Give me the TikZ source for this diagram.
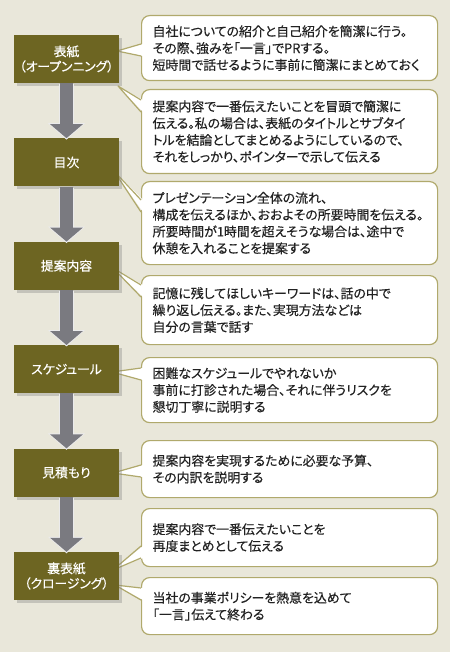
\documentclass[tikz,border=0pt]{standalone}
\usepackage{fontspec}
\setmainfont{Noto Sans CJK JP}[RawFeature={+palt}, UprightFeatures={FakeBold=0.35}]
\usetikzlibrary{positioning, calc, arrows.meta, shadows}

\definecolor{pagebg}{HTML}{E9E7DA}
\definecolor{olive}{HTML}{6D6522}
\definecolor{callline}{HTML}{B0A96C}
\definecolor{flowgray}{HTML}{7A7A80}
\definecolor{ink}{HTML}{222222}

\tikzset{
  stage/.style={rectangle, fill=olive, text=white, minimum width=105pt, minimum height=48pt,
    inner sep=0pt, align=center, font=\fontsize{12.8}{15}\selectfont,
    drop shadow={shadow xshift=3pt, shadow yshift=-3pt, opacity=0.35}},
  callout/.style={rectangle, rounded corners=8pt, draw=callline, line width=1.2pt, fill=white,
    text=ink, anchor=north west, text width=274pt, inner xsep=11pt, inner ysep=0pt, align=left,
    font=\fontsize{12.9}{16.8}\selectfont},
  tailline/.style={draw=callline, line width=1.2pt, line join=round},
  flowedge/.style={draw=white!85!flowgray, line width=15pt, -{Triangle[width=36pt,length=16.5pt]}},
  flow/.style={draw=flowgray, line width=13pt, -{Triangle[width=32pt,length=14pt]}}
}

\begin{document}
\begin{tikzpicture}[x=1pt, y=1pt]
  \fill[pagebg] (0,0) rectangle (450,-652);
  \useasboundingbox (0,0) rectangle (450,-652);

  % Define the callouts
  \node (c1) [callout, minimum height=65pt] at (141,-15) {自社についての紹介と自己紹介を簡潔に行う。\\その際、強みを「一言」でPRする。\\短時間で話せるように事前に簡潔にまとめておく};
  \node (c2) [callout, minimum height=84pt] at (141,-89) {提案内容で一番伝えたいことを冒頭で簡潔に\\伝える。私の場合は、表紙のタイトルとサブタイ\\トルを結論としてまとめるようにしているので、\\それをしっかり、ポインターで示して伝える};
  \node (c3) [callout, minimum height=83pt] at (141,-181) {プレゼンテーション全体の流れ、\\構成を伝えるほか、おおよその所要時間を伝える。\\所要時間が1時間を超えそうな場合は、途中で\\休憩を入れることを提案する};
  \node (c4) [callout, minimum height=69pt] at (141,-275) {記憶に残してほしいキーワードは、話の中で\\繰り返し伝える。また、実現方法などは\\自分の言葉で話す};
  \node (c5) [callout, minimum height=65pt] at (141,-357) {困難なスケジュールでやれないか\\事前に打診された場合、それに伴うリスクを\\懇切丁寧に説明する};
  \node (c6) [callout, minimum height=57pt] at (141,-440) {提案内容を実現するために必要な予算、\\その内訳を説明する};
  \node (c7) [callout, minimum height=58pt] at (141,-508) {提案内容で一番伝えたいことを\\再度まとめとして伝える};
  \node (c8) [callout, minimum height=57pt] at (141,-577) {当社の事業ポリシーを熱意を込めて\\「一言」伝えて終わる};

  % Tips of the callout tails
  \coordinate (t1) at (117,-51);
  \coordinate (t2) at (118,-86);
  \coordinate (t3) at (114,-171);
  \coordinate (t4) at (113,-268);
  \coordinate (t5) at (112,-372);
  \coordinate (t6) at (113,-473);
  \coordinate (t7) at (113,-570);
  \coordinate (t8) at (115,-585);

  % Tails
  \foreach \t/\c/\ya/\yb in {t1/c1/-44/-56, t2/c2/-100/-112, t3/c3/-200/-212, t4/c4/-285/-297,
                             t5/c5/-368/-380, t6/c6/-465/-477, t7/c7/-546/-558, t8/c8/-588/-600} {
    \fill[white] (\t) -- ([xshift=2pt]\c.west |- 0,\ya) -- ([xshift=2pt]\c.west |- 0,\yb) -- cycle;
    \draw[tailline] (\c.west |- 0,\ya) -- (\t) -- (\c.west |- 0,\yb);
  }

  % Define the stages
  \node (b1) [stage] at (66.5,-59) {表紙\\（オープンニング）};
  \node (b2) [stage, below=55pt of b1] {目次};
  \node (b3) [stage, below=55pt of b2] {提案内容};
  \node (b4) [stage, below=55pt of b3] {スケジュール};
  \node (b5) [stage, below=55pt of b4] {見積もり};
  \node (b6) [stage, below=55pt of b5] {裏表紙\\（クロージング）};

  % Connect the stages
  \foreach \a/\b in {b1/b2, b2/b3, b3/b4, b4/b5, b5/b6} {
    \draw [flowedge, shorten <=1pt, shorten >=-1.5pt] (\a) -- (\b);
    \draw [flow] (\a) -- (\b);
  }
\end{tikzpicture}
\end{document}
